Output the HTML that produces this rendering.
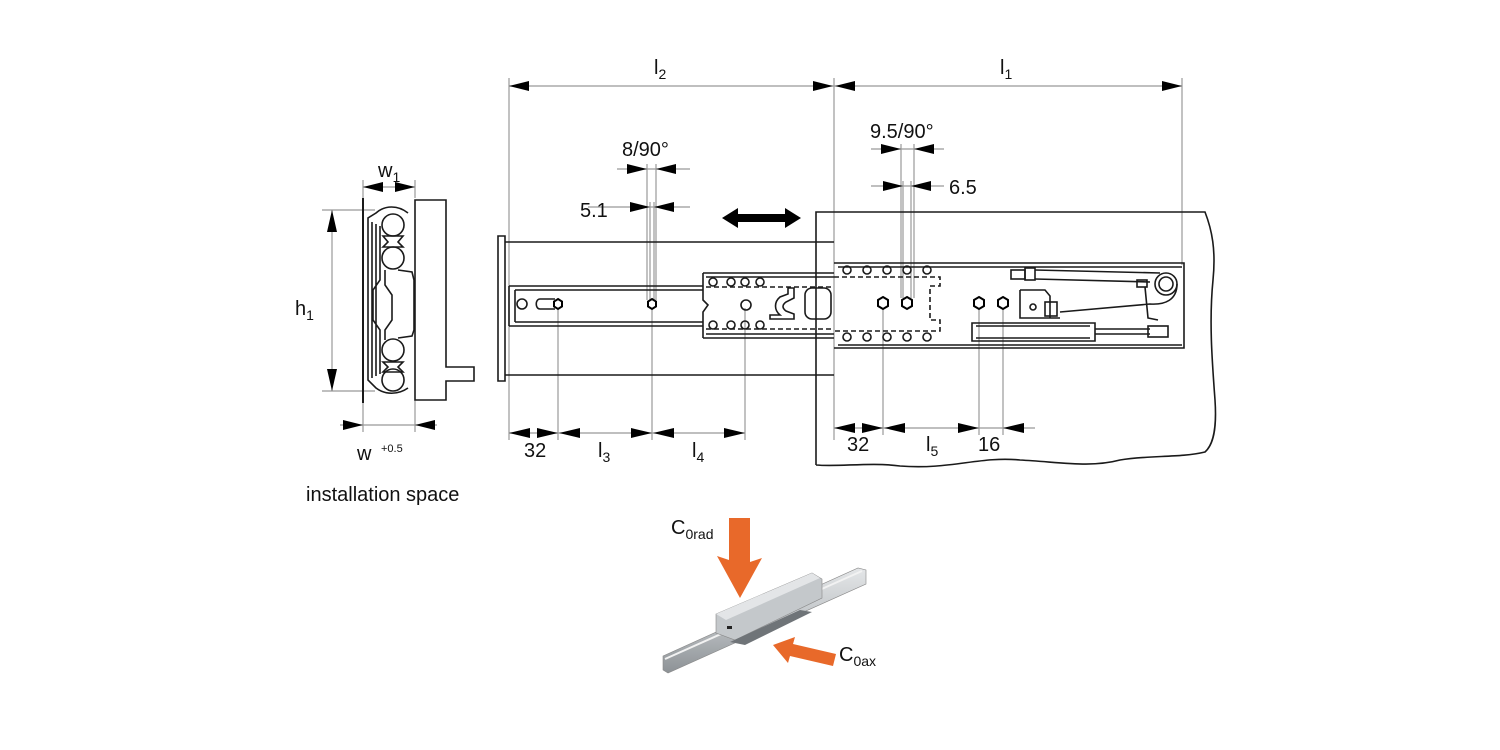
<!DOCTYPE html>
<html><head><meta charset="utf-8"><style>
html,body{margin:0;padding:0;background:#fff;}
svg{display:block;}
text{font-family:"Liberation Sans",Arial,sans-serif;fill:#111;}
</style></head><body>
<svg width="1500" height="750" viewBox="0 0 1500 750" xmlns="http://www.w3.org/2000/svg">
<defs>
<linearGradient id="al" x1="0" y1="0" x2="0" y2="1"><stop offset="0" stop-color="#e4e6e8"/><stop offset="0.5" stop-color="#bfc3c6"/><stop offset="1" stop-color="#8d9296"/></linearGradient>
</defs>
<g stroke="#999" stroke-width="1.2" fill="none">
<line x1="509" y1="86" x2="1182" y2="86"/>
<line x1="509" y1="78" x2="509" y2="440"/>
<line x1="834" y1="78" x2="834" y2="440"/>
<line x1="1182" y1="78" x2="1182" y2="265"/>
<line x1="617" y1="169" x2="690" y2="169"/>
<line x1="647" y1="164" x2="647" y2="300"/>
<line x1="656" y1="164" x2="656" y2="300"/>
<line x1="588" y1="207" x2="690" y2="207"/>
<line x1="650" y1="202" x2="650" y2="300"/>
<line x1="654" y1="202" x2="654" y2="300"/>
<line x1="871" y1="149" x2="944" y2="149"/>
<line x1="901" y1="144" x2="901" y2="298"/>
<line x1="914" y1="144" x2="914" y2="298"/>
<line x1="871" y1="186" x2="944" y2="186"/>
<line x1="903" y1="181" x2="903" y2="298"/>
<line x1="911" y1="181" x2="911" y2="298"/>
<line x1="509" y1="433" x2="745" y2="433"/>
<line x1="558" y1="308" x2="558" y2="440"/>
<line x1="652" y1="308" x2="652" y2="440"/>
<line x1="745" y1="308" x2="745" y2="440"/>
<line x1="834" y1="428" x2="1035" y2="428"/>
<line x1="883" y1="308" x2="883" y2="435"/>
<line x1="979" y1="308" x2="979" y2="435"/>
<line x1="1003" y1="308" x2="1003" y2="435"/>
<line x1="363" y1="187" x2="415" y2="187"/>
<line x1="363" y1="180" x2="363" y2="198"/>
<line x1="415" y1="180" x2="415" y2="198"/>
<line x1="332" y1="210" x2="332" y2="391"/>
<line x1="322" y1="210" x2="375" y2="210"/>
<line x1="322" y1="391" x2="375" y2="391"/>
<line x1="340" y1="425" x2="437" y2="425"/>
<line x1="363" y1="400" x2="363" y2="432"/>
<line x1="415" y1="400" x2="415" y2="432"/>
</g>
<g fill="#000">
<polygon points="509,86 529,81 529,91"/>
<polygon points="833,86 813,81 813,91"/>
<polygon points="835,86 855,81 855,91"/>
<polygon points="1182,86 1162,81 1162,91"/>
<polygon points="647,169 627,164 627,174"/><polygon points="656,169 676,164 676,174"/>
<polygon points="650,207 630,202 630,212"/><polygon points="654,207 674,202 674,212"/>
<polygon points="901,149 881,144 881,154"/><polygon points="914,149 934,144 934,154"/>
<polygon points="903,186 883,181 883,191"/><polygon points="911,186 931,181 931,191"/>
<polygon points="509,433 530,428 530,438"/><polygon points="558,433 537,428 537,438"/>
<polygon points="559,433 580,428 580,438"/><polygon points="652,433 631,428 631,438"/>
<polygon points="653,433 674,428 674,438"/><polygon points="745,433 724,428 724,438"/>
<polygon points="834,428 855,423 855,433"/><polygon points="883,428 862,423 862,433"/>
<polygon points="884,428 905,423 905,433"/><polygon points="979,428 958,423 958,433"/>
<polygon points="1003,428 1024,423 1024,433"/>
<polygon points="363,187 383,182 383,192"/><polygon points="415,187 395,182 395,192"/>
<polygon points="332,210 327,232 337,232"/><polygon points="332,391 327,369 337,369"/>
<polygon points="363,425 343,420 343,430"/><polygon points="415,425 435,420 435,430"/>
<polygon points="722,218 738,208 738,214 785,214 785,208 801,218 785,228 785,222 738,222 738,228"/>
</g>
<g stroke="#1a1a1a" stroke-width="1.6" fill="none">
<path d="M816,465 L816,212 L1205,212 C1212,230 1216,250 1213,280 C1209,320 1212,360 1215,400 C1217,430 1213,445 1205,452 C1180,458 1150,455 1120,460 C1090,468 1060,462 1020,460 C980,456 950,470 900,466 C870,462 840,467 816,465"/>
<line x1="363" y1="198" x2="363" y2="403" stroke-width="2"/>
<path d="M415,200 L446,200 L446,367 L474,367 L474,381 L446,381 L446,400 L415,400 Z"/>
<path d="M408,213 C398,205 385,205 376,213 L368,218 L368,380 L376,388 C385,395 398,395 408,388" />
<path d="M372,222 L372,378 M376,224 L376,376 M380,226 L380,280 L373,290 L373,320 L380,330 L380,374 M385,270 L385,285 L392,295 L392,320 L385,330 L385,340"/>
<path d="M398,270 L412,272 L414,280 L414,330 L412,336 L398,338"/>
<circle cx="393" cy="225" r="11"/><circle cx="393" cy="258" r="11"/>
<circle cx="393" cy="350" r="11"/><circle cx="393" cy="380" r="11"/>
<path d="M383,236 L403,236 L398,242 L403,247 L383,247 L388,242 Z M383,362 L403,362 L398,367 L403,372 L383,372 L388,367 Z"/>
<path d="M498,236 L505,236 L505,381 L498,381 Z"/>
<line x1="505" y1="242" x2="834" y2="242"/>
<line x1="505" y1="375" x2="834" y2="375"/>
<path d="M509,286 L703,286 M509,326 L703,326 M509,286 L509,326 M515,290 L703,290 M515,322 L703,322 M515,290 L515,322"/>
<circle cx="522" cy="304" r="5"/>
<path d="M540,299 L555,299 M540,309 L555,309 M540,299 C535,299 535,309 540,309"/>
<path d="M703,273 L834,273 M703,338 L834,338 M703,273 L703,300 L708,305 L703,312 L703,338 M706,277 L834,277 M706,334 L834,334"/>
<path d="M706,287 L834,287 M706,329 L834,329" stroke-dasharray="5,3"/>
<circle cx="713" cy="282" r="4"/><circle cx="731" cy="282" r="4"/><circle cx="745" cy="282" r="4"/><circle cx="760" cy="282" r="4"/>
<circle cx="713" cy="325" r="4"/><circle cx="731" cy="325" r="4"/><circle cx="745" cy="325" r="4"/><circle cx="760" cy="325" r="4"/>
<circle cx="746" cy="305" r="5"/>
<path d="M788,288 L794,288 L794,298 L786,302 C782,305 782,308 786,311 L794,314 L794,319 L770,319 L770,315 L780,315 C774,310 774,302 780,297 L788,294 Z"/>
<rect x="805" y="288" width="26" height="31" rx="7"/>
<path d="M834,263 L1184,263 L1184,348 L834,348 M838,267 L1182,267 M838,345 L1182,345"/>
<path d="M834,277 L940,277 L940,286 L930,286 L930,320 L940,320 L940,331 L834,331" stroke-dasharray="5,3"/>
<circle cx="847" cy="270" r="4"/><circle cx="867" cy="270" r="4"/><circle cx="887" cy="270" r="4"/><circle cx="907" cy="270" r="4"/><circle cx="927" cy="270" r="4"/>
<circle cx="847" cy="337" r="4"/><circle cx="867" cy="337" r="4"/><circle cx="887" cy="337" r="4"/><circle cx="907" cy="337" r="4"/><circle cx="927" cy="337" r="4"/>
<rect x="1011" y="270" width="14" height="9"/><rect x="1025" y="268" width="10" height="12"/>
<path d="M1035,270 L1160,273 M1035,279 L1150,282"/>
<circle cx="1166" cy="284" r="11"/><circle cx="1166" cy="284" r="7"/>
<path d="M1177,284 C1177,300 1165,305 1150,304 L1060,312 M1020,290 L1020,318 L1060,318 M1020,290 L1045,290 L1050,296 L1050,318"/>
<circle cx="1033" cy="307" r="3"/>
<rect x="1045" y="302" width="12" height="14"/>
<rect x="1137" y="280" width="10" height="7"/>
<path d="M1145,287 L1148,318 L1158,320"/>
<path d="M972,323 L1095,323 L1095,341 L972,341 Z M976,326 L1090,326 M976,338 L1090,338"/>
<path d="M1095,329 L1150,329 M1095,334 L1150,334"/>
<rect x="1148" y="326" width="20" height="11"/>
</g>
<g stroke="#000" stroke-width="2" fill="#fff">
<polygon points="558,299 562,301.5 562,306.5 558,309 554,306.5 554,301.5"/>
<polygon points="652,299 656,301.5 656,306.5 652,309 648,306.5 648,301.5"/>
<polygon points="883,297 888,300 888,306 883,309 878,306 878,300"/>
<polygon points="907,297 912,300 912,306 907,309 902,306 902,300"/>
<polygon points="979,297 984,300 984,306 979,309 974,306 974,300"/>
<polygon points="1003,297 1008,300 1008,306 1003,309 998,306 998,300"/>
</g>
<polygon points="663,656 858,568 866,570 866,584 668,673 663,670" fill="url(#al)" stroke="#888" stroke-width="0.6"/>
<line x1="665" y1="659" x2="862" y2="571" stroke="#f2f2f2" stroke-width="2"/>
<polygon points="716,614 812,573 822,579 822,598 735,640 716,633" fill="#c4c8cb" stroke="#888" stroke-width="0.6"/>
<polygon points="716,614 812,573 820,578 726,620" fill="#e3e5e7"/>
<polygon points="730,642 800,610 812,612 745,645" fill="#6f7478"/>
<rect x="727" y="626" width="5" height="3" fill="#222"/>
<polygon points="729,518 750,518 750,562 762,558 740,598 717,556 729,560" fill="#e8692a"/>
<polygon points="773,645 795,637 793,644 836,654 833,666 790,656 788,663" fill="#e8692a"/>
<g font-size="20">
<text x="654" y="74">l<tspan font-size="14" dy="5">2</tspan></text>
<text x="1000" y="74">l<tspan font-size="14" dy="5">1</tspan></text>
<text x="622" y="156">8/90°</text>
<text x="580" y="217">5.1</text>
<text x="870" y="138">9.5/90°</text>
<text x="949" y="194">6.5</text>
<text x="524" y="457">32</text>
<text x="598" y="457">l<tspan font-size="14" dy="5">3</tspan></text>
<text x="692" y="457">l<tspan font-size="14" dy="5">4</tspan></text>
<text x="847" y="451">32</text>
<text x="926" y="451">l<tspan font-size="14" dy="5">5</tspan></text>
<text x="978" y="451">16</text>
<text x="378" y="177">w<tspan font-size="14" dy="5">1</tspan></text>
<text x="295" y="315">h<tspan font-size="14" dy="5">1</tspan></text>
<text x="357" y="460">w</text>
<text x="381" y="452" font-size="11">+0.5</text>
<text x="306" y="501">installation space</text>
<text x="671" y="534">C<tspan font-size="14" dy="5">0rad</tspan></text>
<text x="839" y="661">C<tspan font-size="14" dy="5">0ax</tspan></text>
</g>
</svg>
</body></html>
